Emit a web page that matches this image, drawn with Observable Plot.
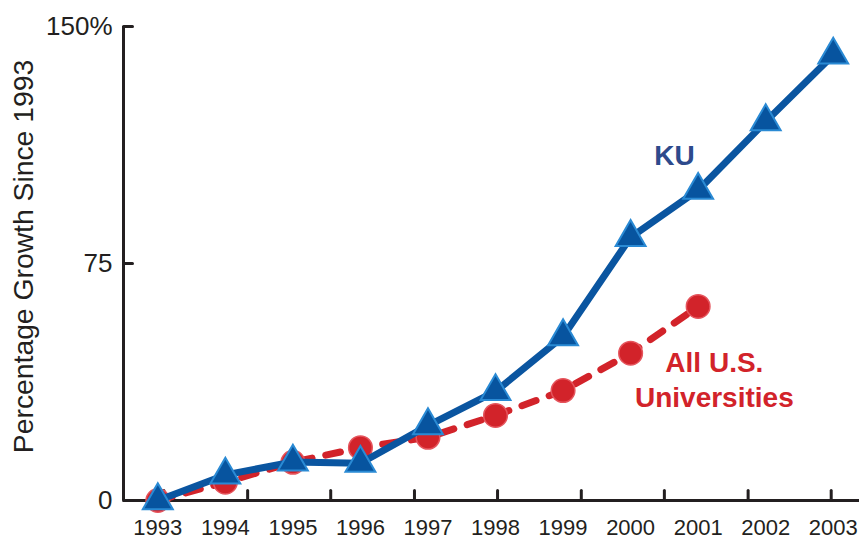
<!DOCTYPE html>
<html>
<head>
<meta charset="utf-8">
<script src="https://cdn.jsdelivr.net/npm/d3@7"></script>
<script src="https://cdn.jsdelivr.net/npm/@observablehq/plot@0.6"></script>
<style>
  html, body { margin: 0; padding: 0; background: #ffffff; }
  #chart { width: 859px; height: 541px; }
</style>
</head>
<body>
<div id="chart"></div>
<script>
// ---- data ----
const kuYears = [1993, 1994, 1995, 1996, 1997, 1998, 1999, 2000, 2001, 2002, 2003];
const kuGrowth = [0, 8.1, 12.2, 11.8, 23.7, 34.5, 51.9, 83.3, 98.2, 119.9, 141];
const usYears = [1993, 1994, 1995, 1996, 1997, 1998, 1999, 2000, 2001];
const usGrowth = [0, 5.8, 12.1, 16.7, 20, 26.9, 34.8, 46.6, 61.4];

const xTickLabels = [1993, 1994, 1995, 1996, 1997, 1998, 1999, 2000, 2001, 2002, 2003];
const xTickMarks = [1993.09, 1994.33, 1995.56, 1996.80, 1998.03, 1999.27, 2000.50, 2001.74, 2002.97];
const yTicks = [0, 75, 150];
const yTitle = ["Percentage Growth Since 1993"];
const seriesLabels = [
  {text: "KU", x: 2000.65, y: 109.8, color: "#2d4a8c"},
  {text: "All U.S.\nUniversities", x: 2001.24, y: 38.8, color: "#d2232a"}
];

const xDomain = [1992.492, 2003.389];
const yDomain = [0, 150];

const ku = kuYears.map((year, i) => ({year, value: kuGrowth[i]}));
const us = usYears.map((year, i) => ({year, value: usGrowth[i]}));

const axisColor = "#231f20";
const tickShape = {draw(context, l) { context.moveTo(0, 0); context.lineTo(0, -l); }};

const chart = Plot.plot({
  width: 859,
  height: 541,
  marginLeft: 123,
  marginRight: 0,
  marginTop: 26,
  marginBottom: 41,
  style: {fontFamily: "'Liberation Sans', Arial, Helvetica, sans-serif", background: "#ffffff", color: axisColor, overflow: "visible"},
  x: {domain: xDomain, axis: null},
  y: {domain: yDomain, axis: null},
  marks: [
    // axes lines
    Plot.ruleY([yDomain[0]], {stroke: axisColor, strokeWidth: 3}),
    Plot.ruleX([xDomain[0]], {y1: yDomain[0], y2: yDomain[1], stroke: axisColor, strokeWidth: 3}),
    // inward tick marks
    Plot.vector(xTickMarks, {x: d => d, y: yDomain[0], length: 10, rotate: 0, anchor: "start", shape: tickShape, stroke: axisColor, strokeWidth: 3}),
    Plot.vector(yTicks, {x: xDomain[0], y: d => d, length: 9, rotate: 90, anchor: "start", shape: tickShape, stroke: axisColor, strokeWidth: 3}),
    // tick labels
    Plot.axisX({ticks: xTickLabels, tickSize: 0, tickPadding: 19, tickFormat: d => String(d), fontSize: 22, fill: axisColor}),
    Plot.axisY({ticks: yTicks, tickSize: 0, tickPadding: 11, tickFormat: d => d === 150 ? "150%" : String(d), fontSize: 26, fill: axisColor}),
    // y title
    Plot.text(yTitle, {text: d => d, frameAnchor: "left", dx: -100, dy: -7, rotate: -90, fontSize: 28.3, fill: axisColor, textAnchor: "middle", lineAnchor: "middle"}),
    // All U.S. universities
    Plot.line(us, {x: "year", y: "value", stroke: "#d2232a", strokeWidth: 7, strokeDasharray: "15,14", strokeLinecap: "round"}),
    Plot.dot(us, {x: "year", y: "value", r: 11.8, fill: "#d2232a", stroke: "#e5545c", strokeWidth: 1.5}),
    // KU
    Plot.line(ku, {x: "year", y: "value", stroke: "#0a55a0", strokeWidth: 7}),
    Plot.dot(ku, {x: "year", y: "value", symbol: "triangle", r: 11.1, fill: "#07549f", stroke: "#2a8ad4", strokeWidth: 2}),
    // series labels
    Plot.text(seriesLabels, {x: "x", y: "y", text: "text", fill: "color", fontSize: 28, fontWeight: "bold", lineHeight: 1.25, textAnchor: "middle"})
  ]
});
document.getElementById("chart").appendChild(chart);
</script>
</body>
</html>
